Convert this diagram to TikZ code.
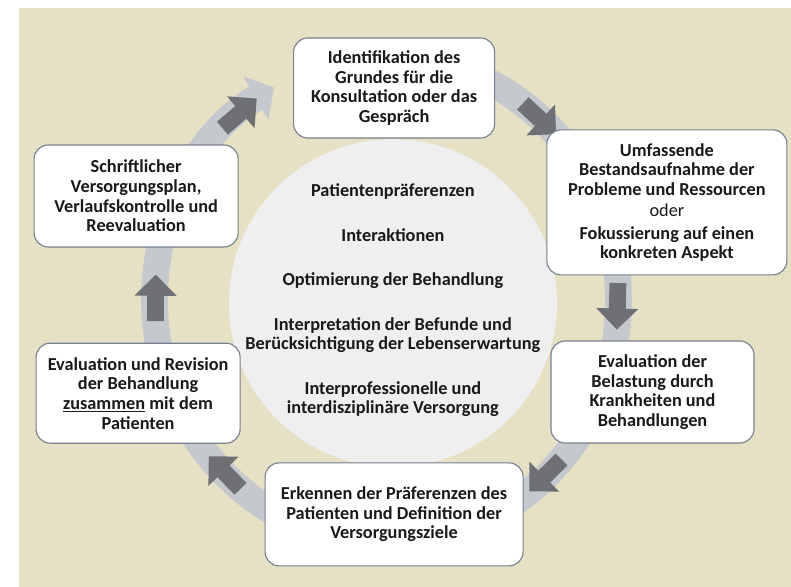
\documentclass[tikz,border=0pt]{standalone}
\usepackage{fontspec}
\setmainfont{Carlito}
\usetikzlibrary{arrows.meta}

\definecolor{bgbeige}{RGB}{230,224,196}
\definecolor{hubgray}{RGB}{239,239,239}
\definecolor{ringgray}{RGB}{197,201,206}
\definecolor{arrowgray}{RGB}{110,112,115}
\definecolor{boxline}{RGB}{118,128,143}
\definecolor{txt}{RGB}{25,25,25}

\begin{document}
\begin{tikzpicture}[font=\fontsize{13}{14}\selectfont\bfseries, text=txt,
  stepbox/.style={draw=boxline, line width=0.8pt, fill=white, rounded corners=10pt, align=center, inner sep=2pt},
  ringline/.style={ringgray, line width=19pt, -{Triangle[width=35pt,length=15pt]}},
  flowarrow/.style={arrowgray, line width=12pt, -{Triangle[width=29pt,length=15pt]}}]

\useasboundingbox (-9.6625,-7.175) rectangle (10.1125,7.5);
\fill[bgbeige] (-9.1875,-7.175) rectangle (10.1125,7.3);

\coordinate (o) at (0,0);
\fill[hubgray] (0.16,-0.08) circle (4.1);

% ring with its own head
\draw[ringline] (95:5.8cm and 6.075cm) arc[start angle=95, end angle=-241, x radius=5.8cm, y radius=6.075cm];

\foreach \i/\a/\b in {1/135/124, 2/54/43, 3/4/-7, 4/-41/-52, 5/231/220, 6/185/174} {
  \coordinate (s\i) at (\a:5.8cm and 6.075cm);
  \coordinate (t\i) at (\b:5.8cm and 6.075cm);
  \draw[flowarrow] (s\i) -- (t\i);
}

\node[stepbox, minimum width=5.025cm, minimum height=2.5cm] (ident) at (0.19,5.3)
  {Identifikation des\\Grundes für die\\Konsultation oder das\\Gespräch};
\node[stepbox, minimum width=6cm, minimum height=3.625cm] (bestand) at (7.01,2.44)
  {Umfassende\\Bestandsaufnahme der\\Probleme und Ressourcen\\[0.7pt]{\mdseries oder}\\[2.3pt]Fokussierung auf einen\\konkreten Aspekt};
\node[stepbox, minimum width=5.075cm, minimum height=2.55cm] (belast) at (6.65,-2.3)
  {Evaluation der\\Belastung durch\\Krankheiten und\\Behandlungen};
\node[stepbox, minimum width=6.45cm, minimum height=2.575cm] (ziele) at (0.19,-5.36)
  {Erkennen der Präferenzen des\\Patienten und Definition der\\Versorgungsziele};
\node[stepbox, minimum width=5.1cm, minimum height=2.5cm] (revision) at (-6.21,-2.33)
  {Evaluation und Revision\\der Behandlung\\\underline{zusammen} mit dem\\Patienten};
\node[stepbox, minimum width=5.1cm, minimum height=2.55cm] (plan) at (-6.26,2.6)
  {Schriftlicher\\Versorgungsplan,\\Verlaufskontrolle und\\Reevaluation};

\node[align=center] (hub) at (0.16,-0.01)
  {Patientenpräferenzen\\[0.62cm]Interaktionen\\[0.62cm]Optimierung der Behandlung\\[0.62cm]Interpretation der Befunde und\\Berücksichtigung der Lebenserwartung\\[0.62cm]Interprofessionelle und\\interdisziplinäre Versorgung};

\end{tikzpicture}
\end{document}
